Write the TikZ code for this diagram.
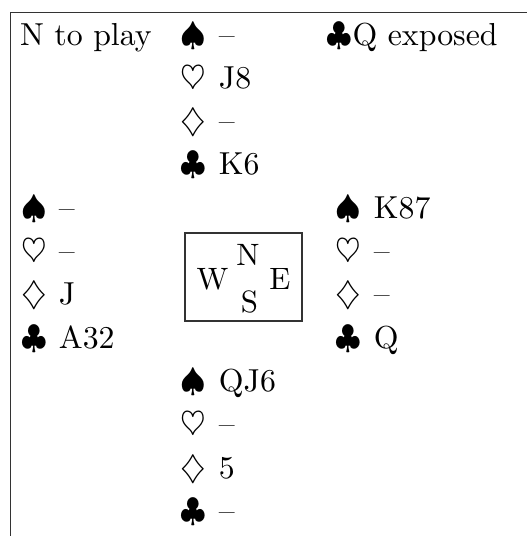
\documentclass[tikz,border=0pt]{standalone}
\usepackage{amssymb}
\begin{document}
\begin{tikzpicture}[x=0.33333pt,y=-0.33333pt,
  txt/.style={anchor=base west,inner sep=0pt,outer sep=0pt,font=\fontsize{10.6}{13}\selectfont},
  ctr/.style={anchor=base,inner sep=0pt,outer sep=0pt,font=\fontsize{10.3}{12}\selectfont},
  frame/.style={line width=0.4pt,draw=black!80}]
\useasboundingbox (0,0) rectangle (531,536);
% frame (top and left sides)
\coordinate (fb) at (10.5,536);
\coordinate (ftl) at (10.5,12.5);
\coordinate (ftr) at (527,12.5);
\draw[frame] (fb) -- (ftl) -- (ftr);
% header texts
\node[txt] (play) at (20,45) {N to play};
\node[txt] (exp) at (327,45) {$\clubsuit$Q exposed};
% North
\node[txt] (ns) at (181,45.0) {$\spadesuit$};  \node[txt] (nst) at (219,45.0) {--};
\node[txt] (nh) at (181,88.3) {$\heartsuit$};  \node[txt] (nht) at (219,88.3) {J8};
\node[txt] (nd) at (181,131.6) {$\diamondsuit$}; \node[txt] (ndt) at (219,131.6) {--};
\node[txt] (nc) at (181,174.9) {$\clubsuit$};  \node[txt] (nct) at (219,174.9) {K6};
% West
\node[txt] (ws) at (21,218.2) {$\spadesuit$};  \node[txt] (wst) at (59,218.2) {--};
\node[txt] (wh) at (21,261.5) {$\heartsuit$};  \node[txt] (wht) at (59,261.5) {--};
\node[txt] (wd) at (21,304.8) {$\diamondsuit$}; \node[txt] (wdt) at (59,304.8) {J};
\node[txt] (wc) at (21,348.1) {$\clubsuit$};  \node[txt] (wct) at (59,348.1) {A32};
% East
\node[txt] (es) at (336,218.2) {$\spadesuit$};  \node[txt] (est) at (374,218.2) {K87};
\node[txt] (eh) at (336,261.5) {$\heartsuit$};  \node[txt] (eht) at (374,261.5) {--};
\node[txt] (ed) at (336,304.8) {$\diamondsuit$}; \node[txt] (edt) at (374,304.8) {--};
\node[txt] (ec) at (336,348.1) {$\clubsuit$};  \node[txt] (ect) at (374,348.1) {Q};
% South
\node[txt] (ss) at (181,391.4) {$\spadesuit$};  \node[txt] (sst) at (219,391.4) {QJ6};
\node[txt] (sh) at (181,434.7) {$\heartsuit$};  \node[txt] (sht) at (219,434.7) {--};
\node[txt] (sd) at (181,478.0) {$\diamondsuit$}; \node[txt] (sdt) at (219,478.0) {5};
\node[txt] (sc) at (181,521.3) {$\clubsuit$};  \node[txt] (sct) at (219,521.3) {--};
% compass box
\node[draw,frame,inner sep=0pt,minimum width=117*0.33333pt,minimum height=88*0.33333pt] (box) at (243.5,277) {};
\node[ctr] (cw) at (212.5,289) {W};
\node[ctr] (cn) at (248,265) {N};
\node[ctr] (cs) at (249.5,312) {S};
\node[ctr] (ce) at (280,289) {E};
\end{tikzpicture}
\end{document}
